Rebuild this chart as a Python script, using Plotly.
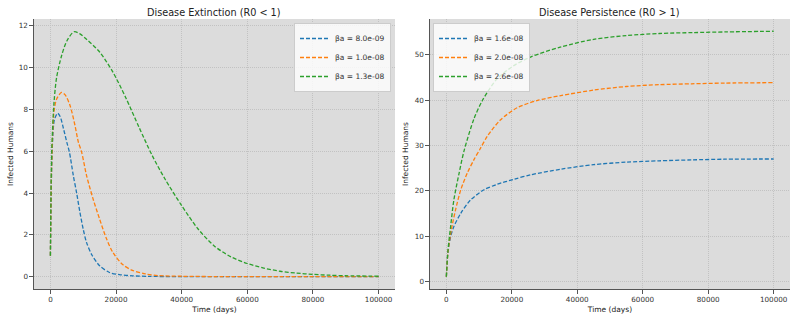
import plotly.graph_objects as go
from plotly.subplots import make_subplots

# ---------------- data ----------------
# Left panel: Disease Extinction (R0 < 1)
ext_labels = ["βa = 8.0e-09", "βa = 1.0e-08", "βa = 1.3e-08"]
ext_t_blue = [0, 300, 700, 1200, 2200, 3000, 4000, 5000, 5800, 7000, 8000, 9000, 10000, 11000,
              12600, 15000, 18000, 21000, 25000, 30000, 40000, 60000, 80000, 100000]
ext_v_blue = [1, 4.6, 6.6, 7.5, 7.82, 7.65, 7.07, 6.43, 5.95, 4.82, 4.0, 3.07, 2.27, 1.64,
              1.05, 0.52, 0.2, 0.1, 0.04, 0.015, 0.003, 0, 0, 0]
ext_t_orange = [0, 400, 1100, 1900, 3400, 4500, 6000, 7500, 8500, 9500, 11000, 13000, 15000,
                17000, 19000, 22000, 25000, 29000, 33000, 40000, 50000, 70000, 100000]
ext_v_orange = [1, 5.4, 7.9, 8.5, 8.82, 8.7, 8.18, 7.23, 6.45, 5.97, 4.85, 3.72, 2.75,
                1.85, 1.17, 0.58, 0.3, 0.13, 0.05, 0.02, 0.005, 0, 0]
ext_t_green = [0, 400, 1100, 1900, 3400, 5000, 7200, 9000, 11000, 15000, 19000, 23000, 27000,
               31000, 35000, 40000, 45000, 50000, 55000, 60000, 65000, 70000, 75000, 80000,
               85000, 90000, 100000]
ext_v_green = [1, 5.95, 8.34, 9.54, 10.57, 11.28, 11.72, 11.62, 11.36, 10.75, 9.8, 8.55, 7.15,
               5.8, 4.65, 3.4, 2.28, 1.46, 0.95, 0.63, 0.41, 0.26, 0.17, 0.11,
               0.07, 0.045, 0.02]

# Right panel: Disease Persistence (R0 > 1)
per_labels = ["βa = 1.6e-08", "βa = 2.0e-08", "βa = 2.6e-08"]
per_t_blue = [0, 400, 1300, 2300, 4400, 7400, 11500, 15500, 20600, 25700, 35000, 45000,
              55000, 65000, 75000, 85000, 100000]
per_v_blue = [1, 5.8, 9.85, 12.1, 15.0, 17.95, 20.2, 21.4, 22.5, 23.5, 24.75, 25.75,
              26.3, 26.6, 26.8, 26.95, 27.0]
per_t_orange = [0, 500, 1500, 2800, 4400, 6400, 8400, 10300, 12500, 16500, 21600, 27700, 35000,
                45000, 55000, 65000, 75000, 85000, 100000]
per_v_orange = [1, 6.5, 11.3, 15.75, 20.2, 23.9, 26.8, 29.2, 32.0, 35.6, 38.3, 39.9, 41.0,
                42.2, 43.0, 43.4, 43.6, 43.75, 43.85]
per_t_green = [0, 500, 1300, 2300, 3900, 5400, 8400, 11000, 15500, 20600, 25700, 34800, 45000,
               55000, 65000, 75500, 85500, 100000]
per_v_green = [1, 6.9, 12.1, 18.0, 23.9, 28.8, 35.8, 39.9, 44.7, 47.6, 49.5, 51.7, 53.4,
               54.25, 54.7, 54.9, 55.05, 55.2]

x_ticks = [0, 20000, 40000, 60000, 80000, 100000]
ext_y_ticks = [0, 2, 4, 6, 8, 10, 12]
per_y_ticks = [0, 10, 20, 30, 40, 50]
titles = ["Disease Extinction (R0 < 1)", "Disease Persistence (R0 > 1)"]
colors = ["#1f77b4", "#ff7f0e", "#2ca02c"]

# ---------------- figure ----------------
FONT = "DejaVu Sans"
W, H = 805, 317
ML, MR, MT, MB = 34, 15, 19, 28
pw = W - ML - MR
ph = H - MT - MB

fig = make_subplots(rows=1, cols=2, subplot_titles=titles,
                    horizontal_spacing=(430 - 395) / pw)
fig.update_layout(xaxis=dict(domain=[0, (395 - ML) / pw]),
                  xaxis2=dict(domain=[(430 - ML) / pw, 1]))

ext = [(ext_t_blue, ext_v_blue), (ext_t_orange, ext_v_orange), (ext_t_green, ext_v_green)]
per = [(per_t_blue, per_v_blue), (per_t_orange, per_v_orange), (per_t_green, per_v_green)]

for i, (t, v) in enumerate(ext):
    fig.add_trace(go.Scatter(x=t, y=v, mode="lines", name=ext_labels[i],
                             line=dict(color=colors[i], width=1.3, dash="4px,2px",
                                       shape="spline", smoothing=0.8),
                             legend="legend"), row=1, col=1)
for i, (t, v) in enumerate(per):
    fig.add_trace(go.Scatter(x=t, y=v, mode="lines", name=per_labels[i],
                             line=dict(color=colors[i], width=1.3, dash="4px,2px",
                                       shape="spline", smoothing=0.8),
                             legend="legend2"), row=1, col=2)

axis_common = dict(showline=True, linecolor="#555555", linewidth=1.2, mirror=False,
                   ticks="outside", ticklen=3.5, tickcolor="#555555", tickwidth=1,
                   tickfont=dict(family=FONT, size=7.2, color="#333333"),
                   showgrid=True, gridcolor="#c2c2c2", gridwidth=0.7, griddash="1px,1px",
                   zeroline=False, automargin=False)

for c in (1, 2):
    fig.update_xaxes(range=[-5000, 105000], tickvals=x_ticks,
                     ticktext=[str(v) for v in x_ticks],
                     title=dict(text="Time (days)", standoff=3,
                                font=dict(family=FONT, size=7.5, color="#222222")),
                     row=1, col=c, **axis_common)
fig.update_yaxes(range=[-0.59, 12.33], tickvals=ext_y_ticks,
                 title=dict(text="Infected Humans", standoff=4,
                            font=dict(family=FONT, size=7.5, color="#222222")),
                 row=1, col=1, **axis_common)
fig.update_yaxes(range=[-1.7, 57.9], tickvals=per_y_ticks,
                 title=dict(text="Infected Humans", standoff=5,
                            font=dict(family=FONT, size=7.5, color="#222222")),
                 row=1, col=2, **axis_common)

for ann in fig.layout.annotations:
    ann.font = dict(family=FONT, size=9.7, color="#222222")
    ann.yshift = -1

legend_common = dict(bgcolor="rgba(255,255,255,0.8)", bordercolor="#cccccc", borderwidth=1,
                     font=dict(family=FONT, size=7.5, color="#333333"),
                     itemwidth=30, tracegroupgap=0, yanchor="top")

fig.update_layout(
    width=W, height=H,
    margin=dict(l=ML, r=MR, t=MT, b=MB, pad=0, autoexpand=False),
    paper_bgcolor="white",
    plot_bgcolor="#dcdcdc",
    font=dict(family=FONT, size=7.5, color="#333333"),
    showlegend=True,
    legend=dict(x=(391 - ML) / pw, xanchor="right", y=1 - (23 - MT) / ph,
                **legend_common),
    legend2=dict(x=(433 - ML) / pw, xanchor="left", y=1 - (23 - MT) / ph,
                 **legend_common),
)

fig.write_html("out.html",
               config={"displayModeBar": False},
               post_script="document.body.style.margin='0px';"
                           "document.body.style.overflow='hidden';")
